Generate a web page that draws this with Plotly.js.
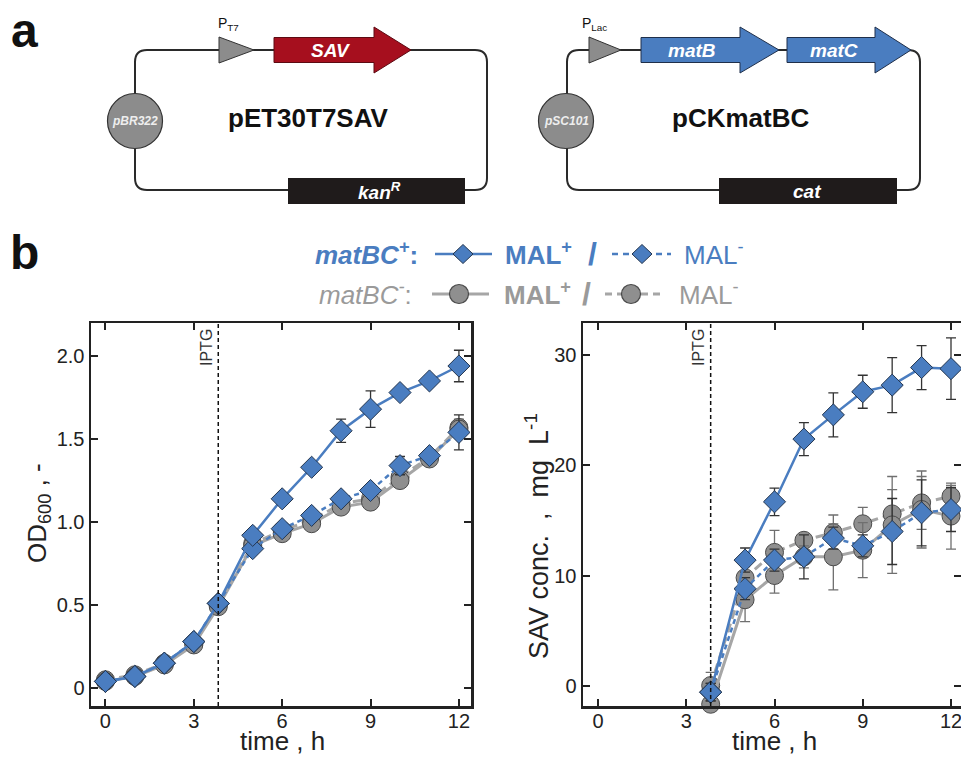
<!DOCTYPE html>
<html>
<head>
<meta charset="utf-8">
<script src="https://cdn.plot.ly/plotly-3.0.1.min.js"></script>
<style>html,body{margin:0;padding:0;background:#fff;}#chart{width:961px;height:758px;}</style>
</head>
<body>
<div id="chart"></div>
<script>
// ---------------- DATA ----------------
const odTimes = [0, 1, 2, 3, 3.83, 5, 6, 7, 8, 9, 10, 11, 12];
const odBluePlus = [0.04, 0.07, 0.15, 0.28, 0.51, 0.92, 1.14, 1.33, 1.55, 1.68, 1.78, 1.85, 1.94];
const odBluePlusErr = [0.01, 0.01, 0.01, 0.02, 0.03, 0.03, 0.03, 0.03, 0.07, 0.11, 0.03, 0.03, 0.095];
const odBlueMinus = [0.04, 0.07, 0.15, 0.28, 0.51, 0.84, 0.96, 1.04, 1.14, 1.19, 1.34, 1.40, 1.54];
const odBlueMinusErr = [0.01, 0.01, 0.01, 0.02, 0.02, 0.03, 0.03, 0.03, 0.03, 0.03, 0.055, 0.03, 0.105];
const odGreyPlus = [0.04, 0.07, 0.14, 0.26, 0.49, 0.86, 0.93, 0.99, 1.09, 1.12, 1.25, 1.38, 1.56];
const odGreyPlusErr = [0.01, 0.01, 0.01, 0.02, 0.02, 0.03, 0.03, 0.03, 0.03, 0.03, 0.03, 0.03, 0.05];
const odGreyMinus = [0.05, 0.08, 0.15, 0.27, 0.50, 0.87, 0.95, 1.01, 1.11, 1.14, 1.27, 1.39, 1.57];
const odGreyMinusErr = [0.01, 0.01, 0.01, 0.02, 0.02, 0.03, 0.03, 0.03, 0.03, 0.03, 0.03, 0.03, 0.05];

const savTimes = [3.83, 5, 6, 7, 8, 9, 10, 11, 12];
const savBluePlus = [-0.6, 11.4, 16.7, 22.4, 24.6, 26.7, 27.3, 28.9, 28.8];
const savBluePlusErr = [0.8, 1.1, 1.25, 1.5, 2.0, 1.5, 2.5, 2.0, 2.8];
const savBlueMinus = [-0.6, 8.8, 11.4, 11.7, 13.4, 12.7, 14.0, 15.7, 16.0];
const savBlueMinusErr = [0.8, 1.0, 1.0, 2.0, 1.0, 1.0, 3.0, 3.0, 2.0];
const savGreyPlus = [-1.7, 7.8, 10.0, 11.7, 11.7, 12.3, 14.6, 16.0, 15.4];
const savGreyPlusErr = [0.8, 2.0, 1.6, 1.0, 3.0, 2.5, 4.4, 3.5, 3.0];
const savGreyMinus = [0.0, 9.8, 12.1, 13.2, 13.9, 14.7, 15.6, 16.6, 17.2];
const savGreyMinusErr = [1.2, 1.0, 2.0, 0.6, 1.6, 1.5, 2.2, 2.4, 1.0];

const iptgTime = 3.83;
const timeTicks = [0, 3, 6, 9, 12];
const odTicks = [0, 0.5, 1.0, 1.5, 2.0];
const odTickText = ['0', '0.5', '1.0', '1.5', '2.0'];
const savTicks = [0, 10, 20, 30];
const savTickText = ['0', '10', '20', '30'];

// ---------------- STYLE ----------------
const W = 961, H = 758;
const FONT = 'Liberation Sans, Arial, Helvetica, sans-serif';
const BLUE = '#4a7dc0', BLUE_EDGE = '#24364f';
const GREY = '#8f8f8f', GREY_EDGE = '#4a4a4a', GREY_LINE = '#a6a6a6';
const TXT_GREY = '#9a9a9a';
const X = px => px / W;
const Y = py => 1 - py / H;
const P = (x, y) => X(x) + ',' + Y(y);

function series(x, y, err, kind, xa, ya) {
  const blue = kind.startsWith('blue');
  const dashed = kind.endsWith('minus');
  return {
    x: x, y: y, xaxis: xa, yaxis: ya, type: 'scatter', mode: 'lines+markers',
    cliponaxis: false, hoverinfo: 'skip',
    line: { color: blue ? BLUE : GREY_LINE, width: blue ? 2.5 : 3,
            dash: dashed ? (blue ? '5px,4px' : '9px,5px') : 'solid' },
    marker: { symbol: blue ? 'diamond' : 'circle', size: blue ? 17 : 18,
              color: blue ? BLUE : GREY,
              line: { color: blue ? BLUE_EDGE : GREY_EDGE, width: 1 } },
    error_y: { type: 'data', array: err, visible: true, thickness: 1.3, width: 5,
               color: blue ? '#333' : '#6f6f6f' }
  };
}

const traces = [
  series(odTimes, odGreyMinus, odGreyMinusErr, 'grey_minus', 'x', 'y'),
  series(odTimes, odGreyPlus, odGreyPlusErr, 'grey_plus', 'x', 'y'),
  series(odTimes, odBlueMinus, odBlueMinusErr, 'blue_minus', 'x', 'y'),
  series(odTimes, odBluePlus, odBluePlusErr, 'blue_plus', 'x', 'y'),
  series(savTimes, savGreyMinus, savGreyMinusErr, 'grey_minus', 'x2', 'y2'),
  series(savTimes, savGreyPlus, savGreyPlusErr, 'grey_plus', 'x2', 'y2'),
  series(savTimes, savBlueMinus, savBlueMinusErr, 'blue_minus', 'x2', 'y2'),
  series(savTimes, savBluePlus, savBluePlusErr, 'blue_plus', 'x2', 'y2')
];

const axBase = {
  showline: true, linecolor: '#222', linewidth: 2.5, mirror: 'ticks',
  ticks: 'inside', ticklen: 7, tickwidth: 2, tickcolor: '#222',
  showgrid: false, zeroline: false, fixedrange: true, ticklabeloverflow: 'allow',
  tickfont: { family: FONT, size: 20, color: '#222' }
};

// ---------------- SHAPES (panel a + legend symbols) ----------------
function roundRect(x0, y0, x1, y1, r) {
  return 'M' + P(x0 + r, y0) + ' L' + P(x1 - r, y0) + ' Q' + P(x1, y0) + ' ' + P(x1, y0 + r) +
         ' L' + P(x1, y1 - r) + ' Q' + P(x1, y1) + ' ' + P(x1 - r, y1) +
         ' L' + P(x0 + r, y1) + ' Q' + P(x0, y1) + ' ' + P(x0, y1 - r) +
         ' L' + P(x0, y0 + r) + ' Q' + P(x0, y0) + ' ' + P(x0 + r, y0) + ' Z';
}
function arrow(x0, xh, x1, yc, hb, hh) {
  return 'M' + P(x0, yc - hb) + ' L' + P(xh, yc - hb) + ' L' + P(xh, yc - hh) + ' L' + P(x1, yc) +
         ' L' + P(xh, yc + hh) + ' L' + P(xh, yc + hb) + ' L' + P(x0, yc + hb) + ' Z';
}
function tri(x0, x1, yc, h) {
  return 'M' + P(x0, yc - h) + ' L' + P(x1, yc) + ' L' + P(x0, yc + h) + ' Z';
}
function diamond(xc, yc, rx, ry) {
  return 'M' + P(xc - rx, yc) + ' L' + P(xc, yc - ry) + ' L' + P(xc + rx, yc) + ' L' + P(xc, yc + ry) + ' Z';
}
const pp = { xref: 'paper', yref: 'paper' };
const shapes = [];
function addPath(path, fill, lc, lw) {
  shapes.push(Object.assign({ type: 'path', path: path, fillcolor: fill, line: { color: lc, width: lw } }, pp));
}
function addRect(x0, y0, x1, y1, fill) {
  shapes.push(Object.assign({ type: 'rect', x0: X(x0), x1: X(x1), y0: Y(y1), y1: Y(y0), fillcolor: fill, line: { width: 0 } }, pp));
}
function addCircle(xc, yc, r, fill, lc) {
  shapes.push(Object.assign({ type: 'circle', x0: X(xc - r), x1: X(xc + r), y0: Y(yc + r), y1: Y(yc - r), fillcolor: fill, line: { color: lc, width: 1.2 } }, pp));
}
function addLine(x0, y0, x1, y1, color, width, dash) {
  shapes.push(Object.assign({ type: 'line', x0: X(x0), x1: X(x1), y0: Y(y0), y1: Y(y1), line: { color: color, width: width, dash: dash || 'solid' } }, pp));
}

// plasmid 1
addPath(roundRect(135, 50, 487, 190, 12), 'rgba(0,0,0,0)', '#2a2a2a', 2);
addPath(tri(219, 254, 50, 13), '#8c8c8c', '#333', 1);
addPath(arrow(274, 374, 411, 50, 12.5, 23), '#a60f1e', '#5c0a12', 1);
addRect(288, 178, 465, 204, '#1f1b1b');
addCircle(135, 121, 27.5, '#8c8c8c', '#333');
// plasmid 2
addPath(roundRect(567, 50, 920, 190, 12), 'rgba(0,0,0,0)', '#2a2a2a', 2);
addPath(tri(589, 621, 50, 13), '#8c8c8c', '#333', 1);
addPath(arrow(641, 740, 779, 50, 12.5, 23), BLUE, '#1f2f4a', 1);
addPath(arrow(787, 875, 911, 50, 12.5, 23), BLUE, '#1f2f4a', 1);
addRect(719, 178, 897, 204, '#1f1b1b');
addCircle(566, 121, 27.5, '#8c8c8c', '#333');

// legend symbols
addLine(435, 254, 492, 254, BLUE, 2.5);
addPath(diamond(463, 254, 10, 9.5), BLUE, BLUE_EDGE, 1);
addLine(612, 254, 671, 254, BLUE, 2.5, '6px,5px');
addPath(diamond(642, 254, 10, 9.5), BLUE, BLUE_EDGE, 1);
addLine(432, 294, 489, 294, GREY_LINE, 3);
addCircle(459, 294, 9.5, GREY, GREY_EDGE);
addLine(605, 294, 664, 294, GREY_LINE, 3, '7px,5px');
addCircle(631, 294, 9.5, GREY, GREY_EDGE);

// IPTG lines
['', '2'].forEach(s => {
  shapes.push({ type: 'line', xref: 'x' + s, yref: 'y' + s + ' domain', x0: iptgTime, x1: iptgTime, y0: 0, y1: 1,
                line: { color: '#111', width: 1.5, dash: '4px,3px' } });
});

// ---------------- ANNOTATIONS ----------------
function ann(text, x, y, size, opts) {
  return Object.assign({ text: text, x: X(x), y: Y(y), xref: 'paper', yref: 'paper', showarrow: false,
    xanchor: 'center', yanchor: 'middle', font: { family: FONT, size: size, color: '#111' } }, opts || {});
}
const annotations = [
  ann('<b>a</b>', 24, 30, 48, { font: { family: FONT, size: 48, color: '#111' } }),
  ann('<b>b</b>', 24, 252, 48, { font: { family: FONT, size: 48, color: '#111' } }),
  ann('P<sub>T7</sub>', 216, 24, 14, { xanchor: 'left' }),
  ann('P<sub>Lac</sub>', 580, 24, 14, { xanchor: 'left' }),
  ann('<b><i>SAV</i></b>', 330, 50, 19, { font: { family: FONT, size: 19, color: '#fff' } }),
  ann('<b><i>matB</i></b>', 692, 50, 19, { font: { family: FONT, size: 19, color: '#fff' } }),
  ann('<b><i>matC</i></b>', 834, 50, 19, { font: { family: FONT, size: 19, color: '#fff' } }),
  ann('<b><i>kan<sup>R</sup></i></b>', 379, 191, 19, { font: { family: FONT, size: 19, color: '#fff' } }),
  ann('<b><i>cat</i></b>', 807, 191, 19, { font: { family: FONT, size: 19, color: '#fff' } }),
  ann('<b><i>pBR322</i></b>', 135, 121, 12, { font: { family: FONT, size: 12, color: '#eee' } }),
  ann('<b><i>pSC101</i></b>', 566, 121, 12, { font: { family: FONT, size: 12, color: '#eee' } }),
  ann('<b>pET30T7SAV</b>', 308, 118, 26),
  ann('<b>pCKmatBC</b>', 740, 118, 26),
  // legend text
  ann('<b><i>matBC<sup>+</sup></i>:</b>', 313, 253, 26, { xanchor: 'left', font: { family: FONT, size: 26, color: BLUE } }),
  ann('<b>MAL<sup>+</sup></b>', 503, 253, 26, { xanchor: 'left', font: { family: FONT, size: 26, color: BLUE } }),
  ann('<b>/</b>', 592, 254, 32, { font: { family: FONT, size: 32, color: BLUE } }),
  ann('MAL<sup>-</sup>', 682, 253, 26, { xanchor: 'left', font: { family: FONT, size: 26, color: BLUE } }),
  ann('<i>matBC<sup>-</sup></i>:', 317, 293, 26, { xanchor: 'left', font: { family: FONT, size: 26, color: TXT_GREY } }),
  ann('<b>MAL<sup>+</sup></b>', 502, 293, 26, { xanchor: 'left', font: { family: FONT, size: 26, color: TXT_GREY } }),
  ann('<b>/</b>', 586, 294, 32, { font: { family: FONT, size: 32, color: TXT_GREY } }),
  ann('MAL<sup>-</sup>', 677, 293, 26, { xanchor: 'left', font: { family: FONT, size: 26, color: TXT_GREY } }),
  // IPTG labels
  ann('IPTG', 206, 348, 16, { textangle: -90, font: { family: FONT, size: 16, color: '#333' } }),
  ann('IPTG', 698, 348, 16, { textangle: -90, font: { family: FONT, size: 16, color: '#333' } }),
  // axis titles
  ann('time , h', 282, 741, 26, { borderpad: 0, font: { family: FONT, size: 26, color: '#222' } }),
  ann('time , h', 774, 741, 26, { borderpad: 0, font: { family: FONT, size: 26, color: '#222' } }),
  ann('OD<sub>600</sub> , -', 38, 513, 26, { textangle: -90, font: { family: FONT, size: 26, color: '#222' } }),
  ann('SAV conc.&nbsp; ,&nbsp; mg&nbsp; L<sup>-1</sup>', 537, 536, 27, { textangle: -90, font: { family: FONT, size: 27, color: '#222' } })
];

const layout = {
  width: W, height: H, margin: { l: 0, r: 0, t: 0, b: 0 }, showlegend: false,
  paper_bgcolor: '#fff', plot_bgcolor: '#fff', font: { family: FONT },
  xaxis: Object.assign({}, axBase, { domain: [X(91), X(471)], range: [-0.49, 12.41], tickvals: timeTicks, anchor: 'y', ticklabelstandoff: -5 }),
  yaxis: Object.assign({}, axBase, { domain: [Y(706), Y(323)], range: [-0.108, 2.199], tickvals: odTicks, ticktext: odTickText, anchor: 'x' }),
  xaxis2: Object.assign({}, axBase, { domain: [X(583), 1], range: [-0.51, 12.34], tickvals: timeTicks, anchor: 'y2', ticklabelstandoff: -5 }),
  yaxis2: Object.assign({}, axBase, { domain: [Y(706), Y(323)], range: [-1.86, 32.95], tickvals: savTicks, ticktext: savTickText, anchor: 'x2' }),
  shapes: shapes, annotations: annotations
};

Plotly.newPlot('chart', traces, layout, { staticPlot: true, displayModeBar: false });
</script>
</body>
</html>
